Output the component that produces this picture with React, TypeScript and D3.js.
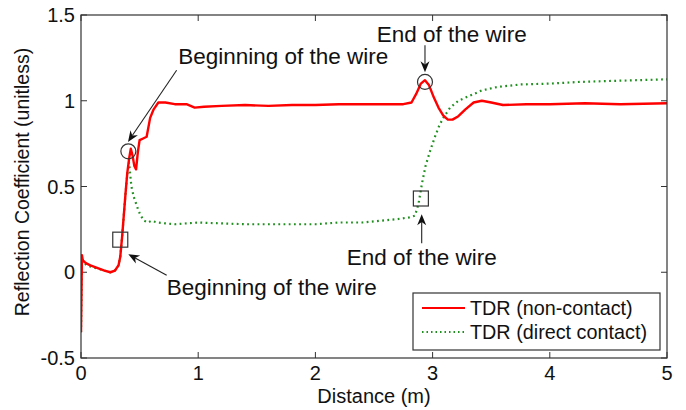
import React from "react";
import * as d3 from "d3";

const redD = [0, 0.008, 0.015, 0.03, 0.05, 0.08, 0.12, 0.16, 0.2, 0.25, 0.29, 0.32, 0.335, 0.35, 0.365, 0.38, 0.395, 0.41, 0.425, 0.44, 0.455, 0.47, 0.485, 0.5, 0.53, 0.56, 0.59, 0.62, 0.66, 0.72, 0.8, 0.9, 0.97, 1.05, 1.2, 1.4, 1.6, 1.8, 2.0, 2.2, 2.4, 2.6, 2.75, 2.82, 2.86, 2.9, 2.935, 2.97, 3.01, 3.05, 3.09, 3.13, 3.17, 3.22, 3.28, 3.35, 3.42, 3.5, 3.6, 3.8, 4.0, 4.3, 4.6, 5.0];
const redV = [-0.35, 0.1, 0.07, 0.06, 0.05, 0.04, 0.03, 0.02, 0.01, 0.0, 0.01, 0.04, 0.09, 0.2, 0.33, 0.46, 0.58, 0.66, 0.72, 0.68, 0.62, 0.6, 0.7, 0.77, 0.78, 0.79, 0.9, 0.95, 0.99, 0.99, 0.98, 0.98, 0.96, 0.965, 0.97, 0.975, 0.97, 0.975, 0.975, 0.98, 0.98, 0.98, 0.98, 0.99, 1.04, 1.1, 1.12, 1.09, 1.02, 0.96, 0.915, 0.89, 0.89, 0.91, 0.95, 0.99, 1.0, 0.99, 0.975, 0.98, 0.98, 0.985, 0.98, 0.985];

const greenD = [0, 0.008, 0.02, 0.05, 0.1, 0.15, 0.2, 0.25, 0.29, 0.32, 0.335, 0.35, 0.365, 0.38, 0.395, 0.41, 0.43, 0.45, 0.47, 0.49, 0.51, 0.54, 0.57, 0.6, 0.65, 0.72, 0.8, 0.9, 1.0, 1.2, 1.4, 1.6, 1.8, 2.0, 2.2, 2.4, 2.55, 2.7, 2.8, 2.85, 2.88, 2.91, 2.94, 2.98, 3.02, 3.06, 3.1, 3.15, 3.22, 3.32, 3.42, 3.55, 3.75, 4.0, 4.26, 4.5, 4.75, 5.0];
const greenV = [-0.35, 0.09, 0.06, 0.04, 0.03, 0.02, 0.01, 0.0, 0.01, 0.04, 0.09, 0.2, 0.33, 0.46, 0.57, 0.64, 0.5, 0.44, 0.4, 0.36, 0.33, 0.3, 0.29, 0.3, 0.29, 0.285, 0.28, 0.285, 0.29, 0.285, 0.28, 0.28, 0.28, 0.28, 0.29, 0.29, 0.3, 0.31, 0.32, 0.33, 0.4, 0.52, 0.62, 0.71, 0.79, 0.86, 0.91, 0.96, 1.0, 1.03, 1.06, 1.08, 1.095, 1.1, 1.11, 1.115, 1.12, 1.125];

const xTicks = [0, 1, 2, 3, 4, 5];
const yTicks = [-0.5, 0, 0.5, 1, 1.5];
const seriesNames = ["TDR (non-contact)", "TDR (direct contact)"];

// annotation markers in data coordinates
const circleMarks = [[0.404, 0.705], [2.935, 1.11]];
const squareMarks = [[0.335, 0.19], [2.9, 0.43]];
// arrows: [tailD, tailV, headD, headV]
const arrows = [
  [0.816, 1.178, 0.401, 0.76],
  [0.731, -0.017, 0.404, 0.105],
  [2.935, 1.324, 2.935, 1.166],
  [2.907, 0.169, 2.907, 0.338],
];
const labels = [
  ["Beginning of the wire", 0.829, 1.217],
  ["End of the wire", 2.523, 1.343],
  ["End of the wire", 2.267, 0.041],
  ["Beginning of the wire", 0.731, -0.134],
];

const W = 686, H = 410;
const L = 81, R = 667, T = 15, B = 358;
const FONT = "'Liberation Sans', Arial, sans-serif";

export default function App() {
  const x = d3.scaleLinear().domain([0, 5]).range([L, R]);
  const y = d3.scaleLinear().domain([-0.5, 1.5]).range([B, T]);
  const line = d3.line<[number, number]>().x((d) => x(d[0])).y((d) => y(d[1]));
  const red = redD.map((d, i) => [d, redV[i]] as [number, number]);
  const green = greenD.map((d, i) => [d, greenV[i]] as [number, number]);
  const axisColor = "#333";
  const tl = 6;

  return (
    <svg width={W} height={H} style={{ position: "absolute", left: 0, top: 0, background: "#fff" }} fontFamily={FONT}>
      <rect x={0} y={0} width={W} height={H} fill="#fff" />
      <defs>
        <clipPath id="plot">
          <rect x={L} y={T} width={R - L} height={B - T} />
        </clipPath>
      </defs>
      {/* ticks */}
      {xTicks.map((t) => (
        <g key={"x" + t}>
          <line x1={x(t)} x2={x(t)} y1={B} y2={B - tl} stroke={axisColor} />
          <line x1={x(t)} x2={x(t)} y1={T} y2={T + tl} stroke={axisColor} />
          <text x={x(t)} y={380} fontSize={20} textAnchor="middle" fill="#111">{t}</text>
        </g>
      ))}
      {yTicks.map((t) => (
        <g key={"y" + t}>
          <line x1={L} x2={L + tl} y1={y(t)} y2={y(t)} stroke={axisColor} />
          <line x1={R} x2={R - tl} y1={y(t)} y2={y(t)} stroke={axisColor} />
          <text x={75} y={y(t) + 7} fontSize={20} textAnchor="end" fill="#111">{t}</text>
        </g>
      ))}
      <g clipPath="url(#plot)">
        <path d={line(green) || ""} fill="none" stroke="#1f8f1f" strokeWidth={2.2} strokeDasharray="1.8 3.4" />
        <path d={line(red) || ""} fill="none" stroke="#ff0000" strokeWidth={2.4} strokeLinejoin="round" />
      </g>
      <rect x={L} y={T} width={R - L} height={B - T} fill="none" stroke={axisColor} strokeWidth={1.2} />
      {/* markers */}
      {circleMarks.map((c, i) => (
        <circle key={"c" + i} cx={x(c[0])} cy={y(c[1])} r={7.5} fill="none" stroke="#333" strokeWidth={1.2} />
      ))}
      {squareMarks.map((s, i) => (
        <rect key={"s" + i} x={x(s[0]) - 7.5} y={y(s[1]) - 7.5} width={15} height={15} fill="none" stroke="#333" strokeWidth={1.2} />
      ))}
      {arrows.map((a, i) => {
        const x1 = x(a[0]), y1 = y(a[1]), x2 = x(a[2]), y2 = y(a[3]);
        const ang = Math.atan2(y2 - y1, x2 - x1);
        const hl = 11, hw = 4.5;
        const bx = x2 - hl * Math.cos(ang), by = y2 - hl * Math.sin(ang);
        const nx = -Math.sin(ang), ny = Math.cos(ang);
        const mx = x2 - hl * 0.7 * Math.cos(ang), my = y2 - hl * 0.7 * Math.sin(ang);
        const pts = `${x2},${y2} ${bx + nx * hw},${by + ny * hw} ${mx},${my} ${bx - nx * hw},${by - ny * hw}`;
        return (
          <g key={"a" + i}>
            <line x1={x1} y1={y1} x2={mx} y2={my} stroke="#222" strokeWidth={1.1} />
            <polygon points={pts} fill="#111" />
          </g>
        );
      })}
      {labels.map((l, i) => (
        <text key={"l" + i} x={x(l[1] as number)} y={y(l[2] as number)} fontSize={22.5} fill="#111">{l[0]}</text>
      ))}
      {/* axis titles */}
      <text x={374} y={403} fontSize={20} textAnchor="middle" fill="#111">Distance (m)</text>
      <text transform={`translate(29,${182}) rotate(-90)`} fontSize={19.5} textAnchor="middle" fill="#111">Reflection Coefficient (unitless)</text>
      {/* legend */}
      <rect x={413} y={293} width={247} height={57} fill="#fff" stroke="#333" strokeWidth={1.2} />
      <line x1={422} x2={465} y1={308} y2={308} stroke="#ff0000" strokeWidth={2.2} />
      <line x1={422} x2={465} y1={332} y2={332} stroke="#1f8f1f" strokeWidth={2} strokeDasharray="1.5 3" />
      <text x={470} y={315} fontSize={19.8} fill="#111">{seriesNames[0]}</text>
      <text x={470} y={339} fontSize={19.8} fill="#111">{seriesNames[1]}</text>
    </svg>
  );
}
